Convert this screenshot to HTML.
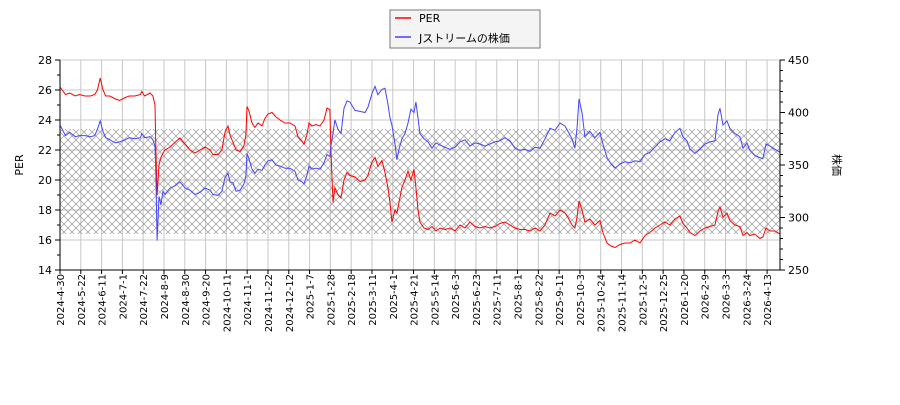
<!DOCTYPE html>
<html><head><meta charset="utf-8"><style>
body{margin:0;background:#fff;}
svg text{font-family:"DejaVu Sans","Liberation Sans","Noto Sans CJK JP",sans-serif;fill:#000;}
</style></head><body>
<svg id="chart" width="900" height="400" xmlns="http://www.w3.org/2000/svg">
<defs>
<pattern id="hatch" width="8" height="8" patternUnits="userSpaceOnUse">
<path d="M0,0L8,8M8,0L0,8" stroke="#999" stroke-width="0.7"/>
</pattern>
</defs>
<g id="grid"></g>
<rect id="band" fill="url(#hatch)"/>
<g id="series"></g>
<g id="axes"></g>
<text x="20" y="165" font-size="11" transform="rotate(-90 20 165)" text-anchor="middle" dominant-baseline="middle">PER</text>
<text x="836" y="165" font-size="11" transform="rotate(90 836 165)" text-anchor="middle" dominant-baseline="middle">株価</text>
<g>
<rect x="390" y="10" width="150" height="38" fill="#f4f4f4" stroke="#777"/>
<line x1="395" y1="18" x2="411" y2="18" stroke="#f00" stroke-width="1.5"/>
<text x="419" y="22" font-size="11">PER</text>
<line x1="395" y1="37" x2="411" y2="37" stroke="#44f" stroke-width="1.5"/>
<text x="419" y="42" font-size="11">Jストリームの株価</text>
</g>
</svg>
<script>
const days=[0,4,7,11,14,18,22,25,27,29,31,33,36,40,43,47,50,54,58,59,61,65,67,68.5,69.2,70,71.4,72.8,74.3,75.7,79.3,82.9,86.5,90.2,93.8,97.4,101,104.6,108.2,110.3,114,116.8,119,121.2,122.6,124.8,127,129.8,132.7,134.1,134.9,136.3,138.5,140.6,142.8,145.7,147.8,150,152.9,155.8,158.7,162.3,165.9,169.5,171.6,174.5,176,178.1,179.6,181.7,184.6,187.5,190.4,192.6,194.7,195.4,196.9,198.3,200.5,202.7,204.8,207,209.1,212.8,216.4,220,222.1,225,227.2,229.3,232.2,234.4,236.5,238,239.4,241.6,243,244.5,246.6,248.8,251,253.1,255.3,256.7,258.2,259.6,262.5,265.4,268.3,271.2,274.1,277.7,281.3,284.9,288.5,292.1,295.7,299.3,302.9,306.5,310.1,313.7,317.3,320.9,324.5,328.1,331.8,335.4,339,342.6,346.2,349.8,353.4,357,360.6,364.2,366.4,369.3,371.4,372.9,374.3,376.5,378.6,382.2,385.8,389.4,391.6,394.5,397.4,400.3,403.9,407.5,411.1,414.7,418.3,421.9,425.5,429.1,432.7,436.3,439.9,443.5,447.1,449.3,452.2,454.4,458,461.6,465.2,468.8,472.4,474.6,476,478.2,481,483.2,486.8,490.4,492.6,495.5,497.6,501.2,504.8,507,509.2,512.1,515.7,519.3];
const perValues=[26.2,25.7,25.8,25.6,25.7,25.6,25.6,25.7,26.0,26.8,26.0,25.6,25.6,25.4,25.3,25.5,25.6,25.6,25.7,25.9,25.6,25.8,25.6,25.0,22.0,19.0,21.0,21.5,21.8,22.0,22.2,22.5,22.8,22.4,22.0,21.8,22.0,22.2,22.0,21.7,21.7,22.0,23.2,23.6,23.0,22.5,22.0,21.9,22.3,23.0,24.9,24.6,23.8,23.5,23.8,23.6,24.1,24.4,24.5,24.2,24.0,23.8,23.8,23.6,22.9,22.6,22.4,23.0,23.8,23.6,23.7,23.6,24.0,24.8,24.7,22.0,18.5,19.5,19.0,18.8,20.0,20.5,20.3,20.2,19.9,20.0,20.3,21.2,21.5,20.9,21.3,20.5,19.5,18.5,17.2,18.0,17.8,18.5,19.5,20.0,20.6,20.0,20.7,19.5,18.0,17.2,16.8,16.7,16.9,16.6,16.8,16.7,16.8,16.6,17.0,16.8,17.2,16.9,16.8,16.9,16.8,16.9,17.1,17.2,17.0,16.8,16.7,16.7,16.6,16.8,16.6,17.0,17.8,17.6,18.0,17.8,17.5,17.0,16.8,17.5,18.6,18.0,17.2,17.4,17.0,17.3,16.5,15.8,15.6,15.5,15.7,15.8,15.8,16.0,15.8,16.3,16.5,16.8,17.0,17.2,17.0,17.4,17.6,17.1,16.8,16.5,16.3,16.6,16.8,16.9,17.0,17.9,18.2,17.5,17.8,17.3,17.0,16.9,16.3,16.5,16.3,16.4,16.1,16.2,16.8,16.6,16.6,16.4];
const priceValues=[388,378,381,377,378,378,377,378,384,392,382,376,374,371,372,374,376,375,376,380,376,377,374,368,340,278,320,312,325,322,328,330,334,328,326,322,324,328,326,322,321,325,338,342,334,333,325,326,332,340,361,356,346,342,346,345,350,354,355,350,349,347,347,344,336,334,332,340,349,346,347,346,352,360,358,368,380,393,384,380,404,411,410,402,401,400,405,418,425,417,422,423,408,395,388,370,355,365,375,380,390,403,400,410,395,380,375,372,366,371,369,367,365,367,372,374,368,371,370,368,370,372,373,376,373,366,364,365,363,367,366,375,385,383,390,387,382,375,366,385,413,400,377,382,376,381,370,357,351,347,351,353,352,354,353,360,362,367,372,375,373,381,385,377,373,365,361,365,370,372,373,398,404,388,392,385,380,377,366,371,364,359,357,356,370,368,365,362];
const tickDays=[0,15,30,45,60,75,90,105,120,135,150,165,180,195,210,225,240,255,270,285,300,315,330,345,360,375,390,405,420,435,450,465,480,495,510];
const tickLabels=["2024-4-30","2024-5-22","2024-6-11","2024-7-1","2024-7-22","2024-8-9","2024-8-30","2024-9-20","2024-10-11","2024-11-1","2024-11-22","2024-12-12","2025-1-7","2025-1-28","2025-2-18","2025-3-11","2025-4-1","2025-4-21","2025-5-14","2025-6-3","2025-6-23","2025-7-11","2025-8-1","2025-8-22","2025-9-11","2025-10-3","2025-10-24","2025-11-14","2025-12-5","2025-12-25","2026-1-20","2026-2-9","2026-3-3","2026-3-24","2026-4-13"];
const leftTicks=[14,16,18,20,22,24,26,28];
const rightTicks=[250,300,350,400,450];
const bandRange=[16.4,23.4];

const L=60,R=780,T=60,B=270,NS="http://www.w3.org/2000/svg";
const xS=d=>L+(d-0)/(519.3-0)*(R-L);
const yL=v=>B-(v-14)/(28-14)*(B-T);
const yR=v=>B-(v-250)/(450-250)*(B-T);
function mk(tag,attrs,parent){const e=document.createElementNS(NS,tag);for(const k in attrs)e.setAttribute(k,attrs[k]);parent.appendChild(e);return e;}
const grid=document.getElementById('grid'),axes=document.getElementById('axes'),series=document.getElementById('series');
const band=document.getElementById('band');
band.setAttribute('x',L);band.setAttribute('width',R-L);
band.setAttribute('y',yL(bandRange[1]));band.setAttribute('height',yL(bandRange[0])-yL(bandRange[1]));
leftTicks.forEach(v=>{const y=yL(v);
 const g=mk('line',{x1:L,x2:R,y1:y,y2:y,stroke:'#c8c8c8','stroke-width':1},grid);
 
 
 mk('line',{x1:L-5,x2:L,y1:y,y2:y,stroke:'#000'},axes);
 const t=mk('text',{x:L-8,y:y+4,'font-size':11,'text-anchor':'end'},axes);t.textContent=v;
 
 
});
for(let v=15;v<28;v+=2){const y=yL(v);mk('line',{x1:L-3,x2:L,y1:y,y2:y,stroke:'#000'},axes);}
for(let v=250;v<=450;v+=10){const y=yR(v);mk('line',{x1:R,x2:R+(v%50==0?5:3),y1:y,y2:y,stroke:'#000'},axes);}
rightTicks.forEach(v=>{const y=yR(v);
 const t=mk('text',{x:R+8,y:y+4,'font-size':11},axes);t.textContent=v;
 
 
});
tickDays.forEach((d,i)=>{const x=xS(d);
 const g=mk('line',{x1:x,x2:x,y1:T,y2:B,stroke:'#c8c8c8','stroke-width':1},grid);
 
 
 mk('line',{x1:x,x2:x,y1:B,y2:B+4,stroke:'#000'},axes);
 const t=mk('text',{x:x+4,y:B+4,'font-size':10,'text-anchor':'end',transform:`rotate(-90 ${x+4} ${B+4})`},axes);t.textContent=tickLabels[i];
 
 
});
mk('line',{x1:L,x2:L,y1:T,y2:B,stroke:'#000'},axes);
mk('line',{x1:R,x2:R,y1:T,y2:B,stroke:'#000'},axes);
mk('line',{x1:L,x2:R,y1:B,y2:B,stroke:'#000'},axes);
const pPer=mk('polyline',{points:days.map((d,i)=>xS(d).toFixed(1)+','+yL(perValues[i]).toFixed(1)).join(' '),fill:'none',stroke:'#f00','stroke-width':1},series);


const pPr=mk('polyline',{points:days.map((d,i)=>xS(d).toFixed(1)+','+yR(priceValues[i]).toFixed(1)).join(' '),fill:'none',stroke:'#44f','stroke-width':1},series);


</script>
</body></html>
